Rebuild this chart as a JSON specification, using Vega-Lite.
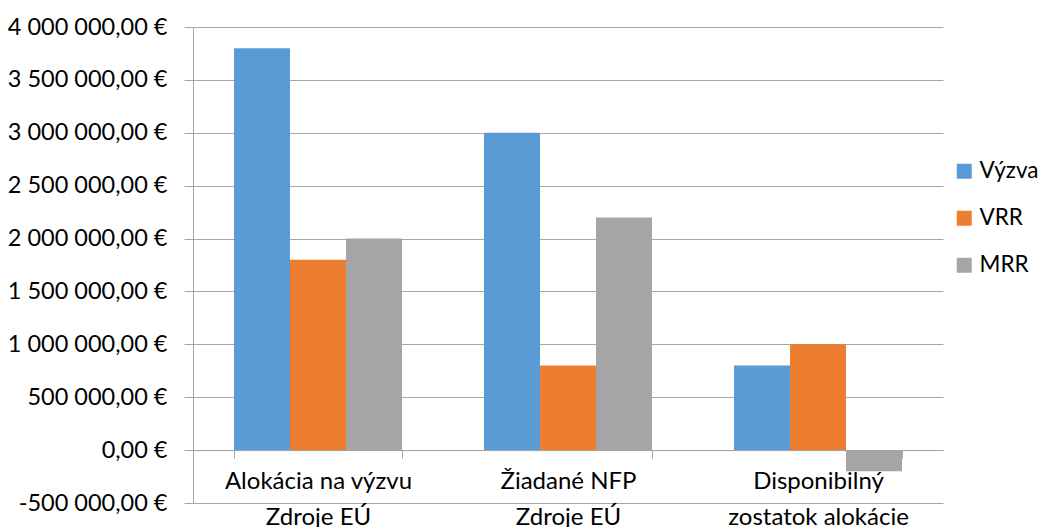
{
  "$schema": "https://vega.github.io/schema/vega-lite/v6.json",
  "width": 750,
  "height": 476,
  "autosize": "none",
  "padding": {"left": 193, "top": 27, "right": 97, "bottom": 24},
  "config": {
    "locale": {"number": {"decimal": ",", "thousands": "\u00a0", "grouping": [3], "currency": ["", "\u00a0€"], "minus": "-"}},
    "view": {"stroke": null},
    "font": "Lato"
  },
  "data": {
    "values": [
      {"kategoria": "Alokácia na výzvu|Zdroje EÚ", "seria": "Výzva", "hodnota": 3800000},
      {"kategoria": "Alokácia na výzvu|Zdroje EÚ", "seria": "VRR", "hodnota": 1800000},
      {"kategoria": "Alokácia na výzvu|Zdroje EÚ", "seria": "MRR", "hodnota": 2000000},
      {"kategoria": "Žiadané NFP|Zdroje EÚ", "seria": "Výzva", "hodnota": 3000000},
      {"kategoria": "Žiadané NFP|Zdroje EÚ", "seria": "VRR", "hodnota": 800000},
      {"kategoria": "Žiadané NFP|Zdroje EÚ", "seria": "MRR", "hodnota": 2200000},
      {"kategoria": "Disponibilný|zostatok alokácie", "seria": "Výzva", "hodnota": 800000},
      {"kategoria": "Disponibilný|zostatok alokácie", "seria": "VRR", "hodnota": 1000000},
      {"kategoria": "Disponibilný|zostatok alokácie", "seria": "MRR", "hodnota": -200000}
    ]
  },
  "mark": {"type": "bar"},
  "encoding": {
    "x": {
      "field": "kategoria",
      "type": "nominal",
      "sort": null,
      "title": null,
      "scale": {"paddingInner": 0.328, "paddingOuter": 0.164},
      "axis": {
        "offset": -52.9,
        "labelExpr": "split(datum.label, '|')",
        "labelAngle": 0,
        "labelFontSize": 24,
        "labelColor": "#000000",
        "labelPadding": 11,
        "labelLineHeight": 36,
        "labelBaseline": "top",
        "labelLimit": 0,
        "tickBand": "extent",
        "tickSize": 8,
        "tickColor": "#a6a6a6",
        "domainColor": "#a6a6a6",
        "grid": false
      }
    },
    "xOffset": {"field": "seria", "type": "nominal", "sort": ["Výzva", "VRR", "MRR"]},
    "y": {
      "field": "hodnota",
      "type": "quantitative",
      "title": null,
      "scale": {"domain": [-500000, 4000000], "nice": false, "zero": false},
      "axis": {
        "values": [-500000, 0, 500000, 1000000, 1500000, 2000000, 2500000, 3000000, 3500000, 4000000],
        "format": "$,.2f",
        "labelFontSize": 23.5,
        "labelColor": "#000000",
        "labelPadding": 17,
        "labelLimit": 0,
        "tickSize": 9,
        "tickColor": "#a6a6a6",
        "domainColor": "#a6a6a6",
        "gridColor": "#a6a6a6",
        "grid": true
      }
    },
    "color": {
      "field": "seria",
      "type": "nominal",
      "title": null,
      "scale": {"domain": ["Výzva", "VRR", "MRR"], "range": ["#5b9bd5", "#ed7d31", "#a5a5a5"]},
      "legend": {
        "orient": "none",
        "legendX": 760,
        "legendY": 133,
        "padding": 0,
        "symbolType": "square",
        "symbolSize": 225,
        "symbolStrokeWidth": 0,
        "labelFontSize": 22.5,
        "labelColor": "#000000",
        "labelOffset": 4,
        "labelLimit": 0,
        "rowPadding": 24
      }
    }
  }
}
